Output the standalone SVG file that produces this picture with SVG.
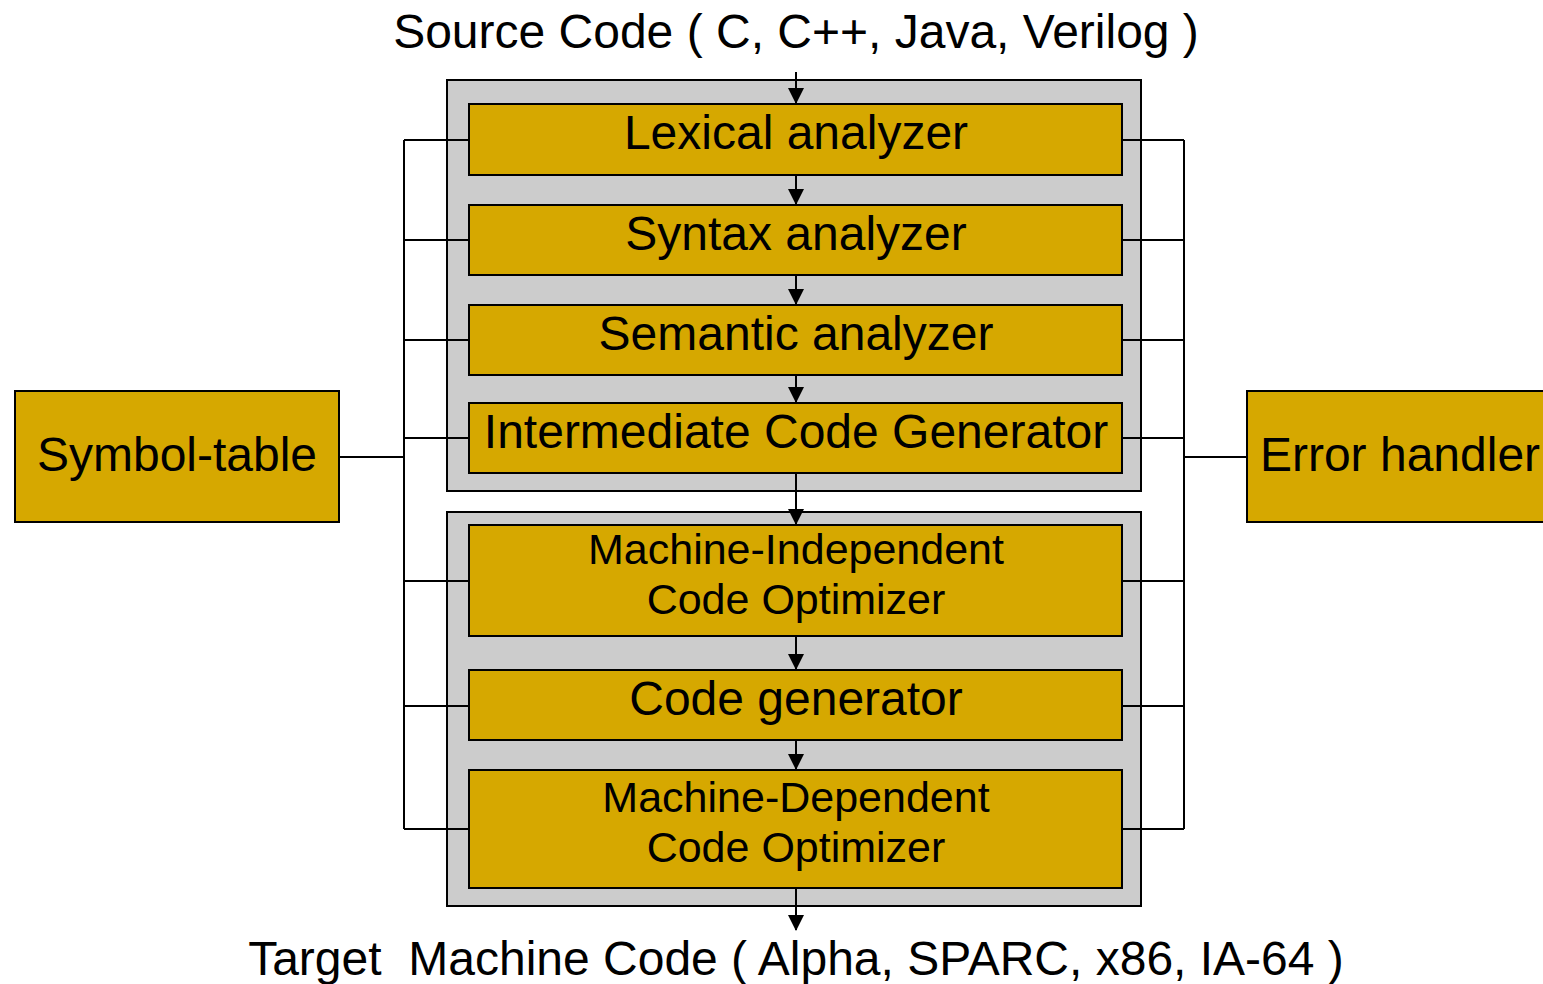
<svg xmlns="http://www.w3.org/2000/svg" width="1543" height="984" viewBox="0 0 1543 984">
  <defs>
    <style>
      .stage { fill: #cccccc; stroke: #000; stroke-width: 2; }
      .box { fill: #d6a800; stroke: #000; stroke-width: 2; }
      .wire { fill: none; stroke: #000; stroke-width: 2; }
      .flow { fill: none; stroke: #000; stroke-width: 2; }
      .label { font-family: "Liberation Sans", Arial, sans-serif; fill: #000; text-anchor: middle; white-space: pre; }
      .big { font-size: 48px; }
      .mid { font-size: 43px; }
      .caption { font-size: 48px; }
    </style>
  </defs>
  <rect width="1543" height="984" fill="#fff"/>

  <!-- stage frames -->
  <g id="frontend-stage">
    <rect class="stage" x="447" y="80" width="694" height="411"/>
  </g>
  <g id="backend-stage">
    <rect class="stage" x="447" y="512" width="694" height="394"/>
  </g>

  <!-- connectors -->
  <g id="connectors">
    <!-- symbol-table bus -->
    <path class="wire" d="M404,140 V829 M404,140 H469 M404,240 H469 M404,340 H469 M404,438 H469 M404,581 H469 M404,706 H469 M404,829 H469 M339,457 H404"/>
    <!-- error-handler bus -->
    <path class="wire" d="M1184,140 V829 M1122,140 H1184 M1122,240 H1184 M1122,340 H1184 M1122,438 H1184 M1122,581 H1184 M1122,706 H1184 M1122,829 H1184 M1184,457 H1247"/>
    <!-- phase flow -->
    <g class="flow">
      <path d="M796,72 V103"/>
      <path d="M796,175 V204"/>
      <path d="M796,275 V304"/>
      <path d="M796,375 V402"/>
      <path d="M796,473 V524"/>
      <path d="M796,636 V669"/>
      <path d="M796,740 V769"/>
      <path d="M796,888 V930"/>
    </g>
    <g fill="#000">
      <path d="M788,88 L804,88 L796,104 Z"/>
      <path d="M788,189 L804,189 L796,205 Z"/>
      <path d="M788,289 L804,289 L796,305 Z"/>
      <path d="M788,387 L804,387 L796,403 Z"/>
      <path d="M788,509 L804,509 L796,525 Z"/>
      <path d="M788,654 L804,654 L796,670 Z"/>
      <path d="M788,754 L804,754 L796,770 Z"/>
      <path d="M788,915 L804,915 L796,931 Z"/>
    </g>
  </g>

  <g id="source">
    <text class="label caption" x="796" y="48">Source Code ( C, C++, Java, Verilog )</text>
  </g>
  <g id="lexical">
    <rect class="box" x="469" y="104" width="653" height="71"/>
    <text class="label big" x="796" y="149">Lexical analyzer</text>
  </g>
  <g id="syntax">
    <rect class="box" x="469" y="205" width="653" height="70"/>
    <text class="label big" x="796" y="250">Syntax analyzer</text>
  </g>
  <g id="semantic">
    <rect class="box" x="469" y="305" width="653" height="70"/>
    <text class="label big" x="796" y="350">Semantic analyzer</text>
  </g>
  <g id="intermediate">
    <rect class="box" x="469" y="403" width="653" height="70"/>
    <text class="label big" x="796" y="448">Intermediate Code Generator</text>
  </g>
  <g id="mi-optimizer">
    <rect class="box" x="469" y="525" width="653" height="111"/>
    <text class="label mid" x="796" y="564">Machine-Independent</text>
    <text class="label mid" x="796" y="614">Code Optimizer</text>
  </g>
  <g id="codegen">
    <rect class="box" x="469" y="670" width="653" height="70"/>
    <text class="label big" x="796" y="715">Code generator</text>
  </g>
  <g id="md-optimizer">
    <rect class="box" x="469" y="770" width="653" height="118"/>
    <text class="label mid" x="796" y="812">Machine-Dependent</text>
    <text class="label mid" x="796" y="862">Code Optimizer</text>
  </g>
  <g id="symbol-table">
    <rect class="box" x="15" y="391" width="324" height="131"/>
    <text class="label big" x="177" y="471">Symbol-table</text>
  </g>
  <g id="error-handler">
    <rect class="box" x="1247" y="391" width="310" height="131"/>
    <text class="label big" x="1400" y="471">Error handler</text>
  </g>
  <g id="target">
    <text class="label caption" x="796" y="975" xml:space="preserve">Target  Machine Code ( Alpha, SPARC, x86, IA-64 )</text>
  </g>
</svg>
